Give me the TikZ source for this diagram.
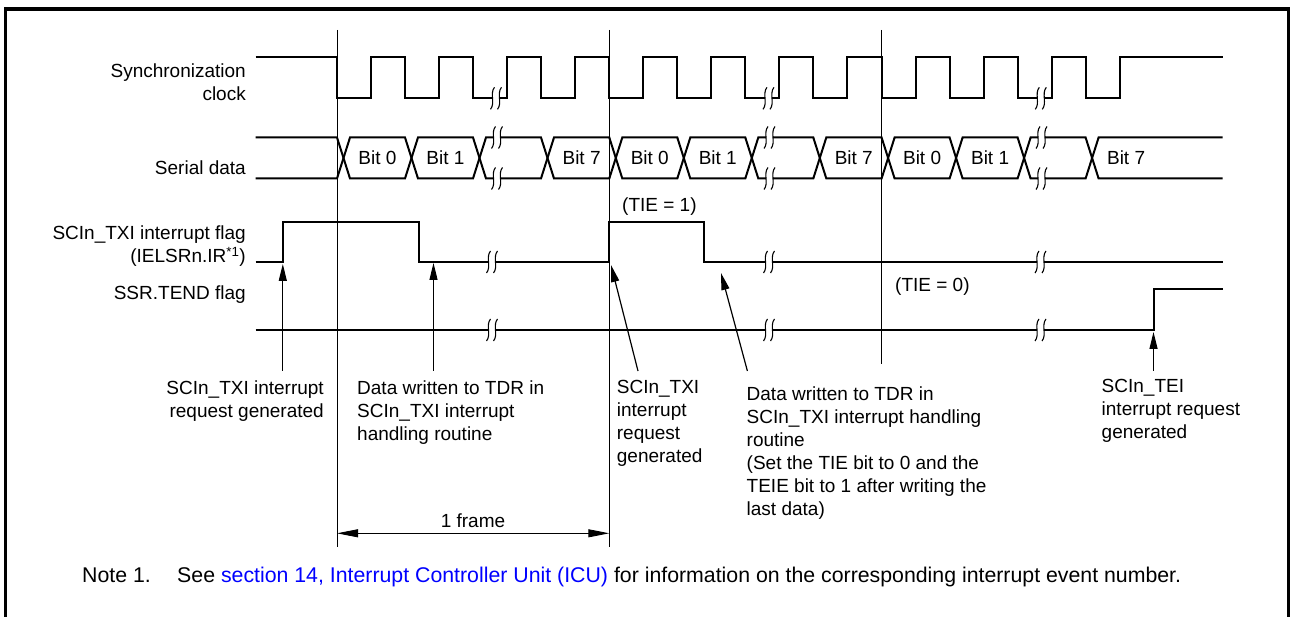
\documentclass[tikz,border=0pt]{standalone}
\usepackage{fontspec}
\setmainfont{Liberation Sans}
\usepackage{tikz}
\usetikzlibrary{arrows.meta}
\usepackage{xcolor}
\definecolor{linkblue}{RGB}{0,0,255}

\begin{document}
\begin{tikzpicture}[
    x=1pt, y=-1pt,
    sig/.style={line width=2pt},
    guide/.style={line width=0.9pt},
    arr/.style={-{Triangle[length=17pt,width=8pt]}, line width=1.2pt},
    dim/.style={{Triangle[length=21pt,width=8pt]}-{Triangle[length=21pt,width=8pt]}, line width=0.9pt},
    lbl/.style={font=\fontsize{19}{23}\selectfont, inner sep=0pt},
    notelbl/.style={font=\fontsize{21.3}{25}\selectfont, inner sep=0pt},
    brk/.pic={
        \fill[white] (-3.6,-3) rectangle (3.6,3);
        \draw[line width=1.1pt] (-1.5,-11) .. controls (-6.5,-5) and (-0.5,5) .. (-5.5,11);
        \draw[line width=1.1pt] (5.5,-11) .. controls (0.5,-5) and (6.5,5) .. (1.5,11);
    }
]
\useasboundingbox (0,0) rectangle (1290,617);
% outer frame
\draw[line width=3.5pt] (5.5,617) -- (5.5,9) -- (1289,9) -- (1289,617);

% frame guides
\draw[guide] (337,30) -- (337,547);
\draw[guide] (609.3,30) -- (609.3,547);
\draw[guide] (881.6,30) -- (881.6,364);

% signal names
\node[lbl, anchor=north east, align=right] (sync) at (246,63.7) {Synchronization\\clock};
\node[lbl, anchor=base east] (serial) at (246,175) {Serial data};
\node[lbl, anchor=north east, align=right] (txiflag) at (246,225.4) {SCIn\_TXI interrupt flag\\(IELSRn.IR\textsuperscript{*1})};
\node[lbl, anchor=base east] (tendflag) at (246,300) {SSR.TEND flag};

% synchronization clock
\draw[sig] (255.5,57.5) -- (337,57.5) |- (371,98.3) |- (405,57.5) |- (439,98.3) |- (473,57.5)
    |- (507,98.3) |- (541,57.5) |- (575,98.3) |- (609.3,57.5)
    |- (643.3,98.3) |- (677.3,57.5) |- (711.3,98.3) |- (745.3,57.5)
    |- (779.3,98.3) |- (813.3,57.5) |- (847.3,98.3) |- (881.6,57.5)
    |- (915.6,98.3) |- (949.6,57.5) |- (983.6,98.3) |- (1017.6,57.5)
    |- (1051.6,98.3) |- (1085.6,57.5) |- (1119.6,98.3) |- (1222.5,57.5);

% serial data
\draw[sig] (255.5,137.5) -- (337,137.5) -- (350,178.5) -- (405,178.5) -- (418,137.5)
    -- (473,137.5) -- (486,178.5) -- (541,178.5) -- (554,137.5) -- (609.3,137.5)
    -- (622.3,178.5) -- (677.3,178.5) -- (690.3,137.5) -- (745.3,137.5) -- (758.3,178.5)
    -- (813.3,178.5) -- (826.3,137.5) -- (881.6,137.5) -- (894.6,178.5) -- (949.6,178.5)
    -- (962.6,137.5) -- (1017.6,137.5) -- (1030.6,178.5) -- (1085.6,178.5) -- (1098.6,137.5)
    -- (1222.5,137.5);
\draw[sig] (255.5,178.5) -- (337,178.5) -- (350,137.5) -- (405,137.5) -- (418,178.5)
    -- (473,178.5) -- (486,137.5) -- (541,137.5) -- (554,178.5) -- (609.3,178.5)
    -- (622.3,137.5) -- (677.3,137.5) -- (690.3,178.5) -- (745.3,178.5) -- (758.3,137.5)
    -- (813.3,137.5) -- (826.3,178.5) -- (881.6,178.5) -- (894.6,137.5) -- (949.6,137.5)
    -- (962.6,178.5) -- (1017.6,178.5) -- (1030.6,137.5) -- (1085.6,137.5) -- (1098.6,178.5)
    -- (1222.5,178.5);
\node[lbl] (b0a) at (377.5,158) {Bit 0};
\node[lbl] (b1a) at (445.5,158) {Bit 1};
\node[lbl] (b7a) at (581.6,158) {Bit 7};
\node[lbl] (b0b) at (649.8,158) {Bit 0};
\node[lbl] (b1b) at (717.8,158) {Bit 1};
\node[lbl] (b7b) at (853.8,158) {Bit 7};
\node[lbl] (b0c) at (922.1,158) {Bit 0};
\node[lbl] (b1c) at (990.1,158) {Bit 1};
\node[lbl] (b7c) at (1126.1,158) {Bit 7};

% interrupt flag and TEND
\draw[sig] (255.5,262) -- (282.8,262) |- (418.8,222) |- (609.3,262) |- (704.3,222) |- (1222.5,262);
\draw[sig] (255.5,330) -- (1153.5,330) |- (1222.5,289);
\node[lbl, anchor=base west] (tieon) at (622,212) {(TIE = 1)};
\node[lbl, anchor=base west] (tieoff) at (895,292) {(TIE = 0)};

% breaks
\pic at (496,98.3) {brk};
\pic at (768.5,98.3) {brk};
\pic at (1040.8,98.3) {brk};
\pic at (497,137.5) {brk};
\pic at (497,178.5) {brk};
\pic at (769.5,137.5) {brk};
\pic at (769.5,178.5) {brk};
\pic at (1041.5,137.5) {brk};
\pic at (1041.5,178.5) {brk};
\pic at (492,262) {brk};
\pic at (769,262) {brk};
\pic at (1040.5,262) {brk};
\pic at (492,330) {brk};
\pic at (769,330) {brk};
\pic at (1040.5,330) {brk};

% event labels
\node[lbl, anchor=north east, align=right] (txireq) at (324,380.3) {SCIn\_TXI interrupt\\request generated};
\node[lbl, anchor=north west, align=left] (tdrwr) at (357,381) {Data written to TDR in\\SCIn\_TXI interrupt\\handling routine};
\node[lbl, anchor=north west, align=left] (txireqb) at (616.7,380.3) {SCIn\_TXI\\interrupt\\request\\generated};
\node[lbl, anchor=north west, align=left] (tdrwrb) at (746.5,387) {Data written to TDR in\\SCIn\_TXI interrupt handling\\routine\\(Set the TIE bit to 0 and the\\TEIE bit to 1 after writing the\\last data)};
\node[lbl, anchor=north west, align=left] (teireq) at (1101.5,379.5) {SCIn\_TEI\\interrupt request\\generated};

\coordinate (txitail) at (282.8,371);
\coordinate (txitip) at (282.8,264);
\coordinate (tdrtail) at (433.5,371);
\coordinate (tdrtip) at (433.5,263);
\coordinate (txibtail) at (638,371);
\coordinate (txibtip) at (611,265);
\coordinate (tdrbtail) at (747.4,371);
\coordinate (tdrbtip) at (721,273);
\coordinate (teitail) at (1153.5,371);
\coordinate (teitip) at (1153.5,332);
\draw[arr] (txitail) -- (txitip);
\draw[arr] (tdrtail) -- (tdrtip);
\draw[arr] (txibtail) -- (txibtip);
\draw[arr] (tdrbtail) -- (tdrbtip);
\draw[arr] (teitail) -- (teitip);

% one frame
\coordinate (fs) at (337,533.3);
\coordinate (fe) at (609.3,533.3);
\draw[dim] (fs) -- (fe);
\node[lbl, anchor=base] (frame) at (473,527) {1 frame};

% note
\node[notelbl, anchor=base west] (note) at (82,582) {Note 1.};
\node[notelbl, anchor=base west] (notetxt) at (177,582) {See \textcolor{linkblue}{section 14, Interrupt Controller Unit (ICU)} for information on the corresponding interrupt event number.};
\end{tikzpicture}
\end{document}
